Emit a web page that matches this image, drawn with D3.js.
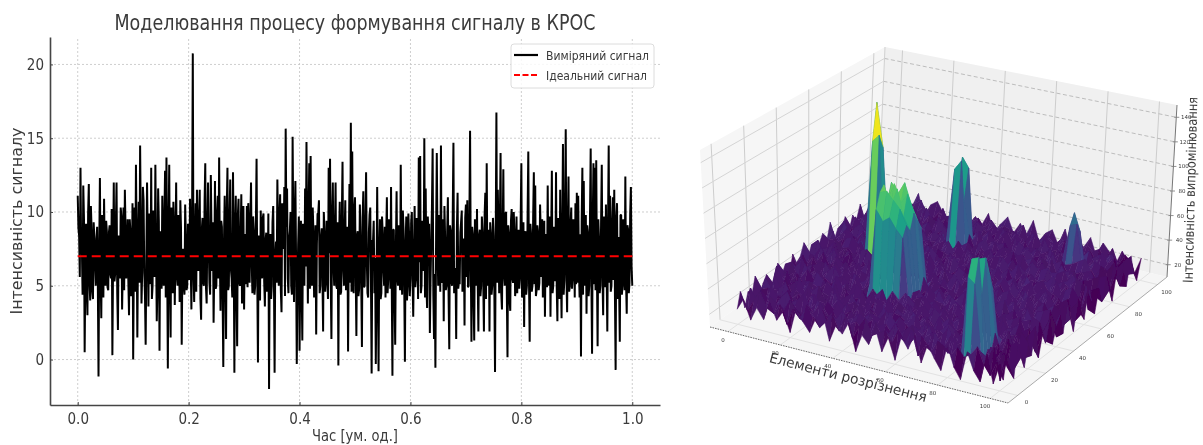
<!DOCTYPE html>
<html>
<head>
<meta charset="utf-8">
<script src="https://d3js.org/d3.v7.min.js"></script>
<style>
  html, body { margin: 0; padding: 0; background: #fff; overflow: hidden; }
  svg { display: block; }
  text { font-family: "DejaVu Sans Condensed", "DejaVu Sans", sans-serif; fill: #3a3a3a; }
</style>
</head>
<body>
<svg id="chart" width="1203" height="445"></svg>
<script>
// Left chart data
const signalTitle = "Моделювання процесу формування сигналу в КРОС";
const signalTicksX = [0, 0.2, 0.4, 0.6, 0.8, 1.0];
const signalTicksY = [0, 5, 10, 15, 20];
const idealLevel = 7;
const legendLabels = ["Виміряний сигнал", "Ідеальний сигнал"];

const measured = [
  11.1,8.4,13,7.6,11.8,.5,9.2,3,11.9,4,8.8,4.1,8.2,5,9,-1.15,12.3,2.8,8.6,10.9,
  5,8.7,4.7,9.1,5.5,.3,12,5.8,12,2,7.8,10.3,3.4,10.3,11.5,5.5,9.5,3,8.7,5,
  0,10.3,13.2,1.5,10.7,14.5,3.8,11.7,6,1,12,3.6,8.5,13,5,9,13.2,2.6,11.6,.6,
  6,11.1,5,12.8,13.7,-.6,13.2,1.5,8,10.7,3.7,12,5,8.5,10.8,1,7.5,4.4,8.3,5,
  7.5,10.9,3.4,20.75,3.9,10.6,11.5,6,11.5,2.7,9.6,5,13.3,3.8,12,5.2,12.5,6,2.5,12.1,
  5,11.1,13.7,3.3,9,-.5,11.1,1.4,13,5,12.2,5.5,12.7,-.9,11.1,.9,10.9,5,11.2,4.5,
  3.4,8.5,10.4,10.6,5.2,12,4.5,8.8,5,13.6,-.2,7.5,10.1,5.5,9.9,3.6,8.6,5,-2,8.5,
  5,10.4,-.9,8,12.2,5,11.2,3.2,8,11.7,15.65,11.6,4.5,8.7,5,15.1,3.9,12.1,-.3,7.8,
  .6,9.4,1.3,8.3,11.6,14.75,3.8,13.3,13.8,5,8.7,5.6,1.7,9.9,10.8,5,8.9,1.9,8.6,5.4,
  6,13,13.6,1.4,12,5,12,4.8,-.4,10.7,4.6,13.4,5,10.8,5.5,.55,11.9,16.05,14.1,4.5,
  11,1.6,8.7,4.8,8.4,.85,11.4,5,12.7,4.5,8.6,10.3,-.95,8,4.5,-.3,11.7,-.8,9.5,4.5,
  8.5,5,4.2,11,5.5,8.4,11.7,-1.1,8.8,1,11.4,5,8.6,13.2,4.4,8.9,-.15,9.7,5,8.5,
  5.5,10,2.9,10.4,5.5,8.6,13.7,13.8,5,8.8,15,11.6,3.5,8.4,1.8,8,14.3,1.4,-.55,14,
  5,9,14.5,5.2,2.6,8.3,5,11,.7,8.7,5,14.7,4.8,1.4,11.3,5.4,8.6,10.1,5,2.3,
  10.5,10.8,5,15.5,1.2,8.5,1.3,8.3,10.2,1.9,8.8,5,8.6,1.9,11.3,13.3,5,1.9,8.5,5,
  8.4,-.85,16.75,11.5,4.5,14,3.4,12.9,5,10,.15,8.6,3.3,10.2,5.2,8.7,5,4.5,8.8,5.5,
  13.3,5,2.2,8.7,5,14.1,1.2,8.5,5,12.7,11.8,4.7,8.6,5.2,8.4,9.5,5.5,2.9,8.5,11.8,
  5,2.9,12.8,5,8.4,12.7,2.6,8,11.5,2.8,14.6,5.4,15.6,3.2,12.4,5,10.3,5.5,8.7,10.6,
  11.3,11.1,4.2,.2,13,12.1,5,3.1,8.6,5,14.3,.4,13.3,13,13.5,.9,8.2,5,13.2,3,
  8.4,10.5,1.9,14.5,11.1,5,11,11.5,-.7,10.6,8.3,1.2,9.8,5,8.7,12.4,3.1,8.8,5.2,11.7,5
];

// samples in between, the dark band around the ideal level
const measuredBetween = [
  8.9,5.6,7.2,4.4,9.6,6.1,4.8,9.9,5.2,10.4,4.6,9.3,6.4,8.2,5.1,7.4,5.7,9.8,4.2,7.1,
  9.4,4.9,8.6,5.8,10.2,6.6,5.3,9.1,4.5,8.4,5.5,9.7,6.2,4.7,8.8,7.3,5.4,9.5,4.3,10.6,
  6.7,4.6,8.1,7.5,5.2,9.2,5.9,10.8,4.4,6.9,8.3,9.9,5.1,4.1,10.1,5.6,7.8,4.9,9.4,8.7,
  4.8,7.6,9.5,4.2,6.8,8.5,5.3,10.3,4.5,9.1,7.2,5.7,9.8,3.9,8.9,6.3,5,10.5,4.7,9.2,
  5.4,6.5,9.7,5.8,8.2,4.6,7.4,9.6,4.1,8.8,5.2,10.7,4.9,9,7.7,4.4,8.6,9.3,6.2,4.8,
  9.9,5.5,7.1,9.4,4.3,8,5.9,10.1,4.7,9.5,6.1,4.2,7.6,8.9,4.5,9.8,5.2,8.3,3.8,10.4,
  7.9,5.1,4.9,8.7,9.2,6.6,9.7,4.4,9.1,5.6,8.4,4,7.3,9.6,5.3,8.1,4.6,9.9,7.2,4.1,
  9.3,5.8,6.9,5.2,8.8,9.5,4.7,10.6,7.5,4.3,9,5.5,8.2,10,4.4,8.6,9.4,6.7,5.1,9.7,
  5.4,4.9,9.2,5,6.3,8.9,9.6,4.8,5.6,10.3,4.2,9.1,7.8,9.9,4.5,8.3,5.7,10,4.6,9.4,
  4.1,7.2,5.3,9.8,6.5,8.7,5,9.3,8,4.4,9.5,6.2,8.5,4.7,9,7.4,5.2,4.6,6.4,10.2,
  5.9,8.4,4.3,10.5,5.1,9.6,4.9,9.2,6.8,4.2,9.8,5.4,8.1,9.4,6.9,4.6,5.7,7.2,4.1,9.7,
  6.1,9,8.3,4.5,9.5,4.8,5.3,8.8,4.4,7.7,5.6,9.1,4.7,6.4,10.1,5.2,7.9,4,9.9,4.3,
  9.3,5.5,7,4.9,9.6,4.1,6.6,4.5,9.4,6,4.2,5.1,9.7,9.2,5.4,10.3,4.4,5.8,8.5,8,
  9.8,4.6,5.7,9.5,10.4,4.7,8.6,4.3,9.1,5.3,9.9,4.5,6.2,8.9,4.8,5.1,9.3,4.6,8.2,9.6,
  5.6,4.9,9.4,6.7,9,4.2,9.5,5,5.4,8.4,4.3,9.7,5.2,9.8,4.1,5.9,8.8,9.3,4.4,9.6,
  4.7,8.1,5.2,8.7,9.2,4.5,8.3,5.7,9.9,4.6,9.1,4,9.4,5.5,10,4.3,9.7,6.4,4.8,9.5,
  4.2,9.3,8.1,4.4,9.8,5.4,9.2,4.6,9.6,5.1,4.3,9.1,4.7,10.5,5.6,4.2,9.4,7.4,4.9,5.8,
  9.7,8.2,4.5,9,5.3,4.9,9.6,4.1,6.2,8.6,4.4,9.9,5.7,8.8,4.6,9.2,4.8,9.5,4.2,5.1,
  5.2,6.4,8.5,9.3,4.4,5.8,9.8,9.1,4.3,9.6,5.5,9.4,5.1,4.7,6.1,9.5,4.5,9.2,5.6,9.7,
  4.9,5.9,9,5.2,4.6,9.3,5.4,4.3,9.6,4.1,5,9.8,4.4,9.5,4.7,5.3,9.1,4.5,9.9,6.3
];

// Right chart data
const surfaceTicksXY = [0, 20, 40, 60, 80, 100];
const surfaceTicksZ = [20, 40, 60, 80, 100, 120, 140];
const surfaceLabelX = "Елементи розрізнення";
const surfaceLabelZ = "Інтенсивність випромінювання";

// background heights, one row per step of 2.5 along the x axis
const surfaceRows = [
  [22,34,19,30,25,38,21,28,33,18, 27,36,24,31,20,35,26,29,38,23, 32,19,28,35,25,40,22,30,27,36, 21,33,26,38,24,29,35,20,31,27,24],
  [31,20,36,26,18,29,35,23,27,39, 22,30,25,34,28,19,33,24,30,26, 37,28,21,31,36,24,29,38,23,28, 35,26,30,22,33,27,21,36,25,30,37],
  [16,29,25,33,22,31,27,36,20,28, 34,24,29,21,36,27,23,31,25,35, 22,30,26,33,20,29,35,25,31,22, 28,37,24,30,26,34,28,23,29,33,21],
  [27,38,21,28,35,24,30,22,33,26, 19,31,27,35,24,30,28,21,34,26, 29,36,23,27,32,22,30,26,36,29, 24,31,27,21,35,25,33,30,26,22,34],
  [19,26,33,23,29,27,36,25,21,31, 28,24,34,26,29,22,32,27,24,37, 25,21,30,28,35,26,23,33,27,24, 30,22,36,28,25,31,23,27,35,29,25],
  [34,23,28,31,20,33,24,29,37,26, 30,22,27,32,25,35,21,29,33,24, 28,31,26,22,30,37,28,25,21,34, 27,29,24,32,30,23,36,26,22,31,38],
  [21,31,25,37,27,22,30,26,24,33, 29,36,23,28,31,26,34,24,28,22, 33,25,29,36,23,27,31,34,28,25, 22,35,30,26,23,29,27,33,28,36,20],
  [29,17,34,24,30,28,23,35,29,22, 26,31,28,24,36,23,27,33,26,30, 21,34,27,24,31,25,22,29,36,27, 33,24,28,31,37,26,30,22,34,25,31],
  [14,30,27,22,36,25,31,21,34,27, 33,25,22,30,27,34,29,22,31,25, 28,36,30,26,33,22,28,35,24,30, 26,29,34,23,27,31,25,36,28,23,35],
  [33,24,20,31,26,35,28,30,23,25, 29,37,26,33,21,28,24,35,27,29, 23,31,25,34,27,29,36,23,30,26, 31,22,27,35,29,24,33,28,21,30,26],
  [25,36,29,26,33,22,27,24,31,36, 22,28,30,24,34,26,31,23,36,28, 25,33,29,22,30,26,24,32,27,35, 23,30,26,28,33,22,29,25,36,27,19],
  [18,28,23,35,29,31,25,37,26,21, 31,27,23,36,28,25,30,33,22,27, 34,24,28,31,25,36,29,26,21,31, 28,34,25,30,24,36,27,31,23,29,32],
  [30,21,32,25,20,27,33,22,30,29, 24,34,28,26,31,36,23,28,29,25, 31,22,35,27,33,24,30,27,35,24, 29,26,33,21,28,30,25,22,34,26,37],
  [37,27,24,30,36,26,29,28,34,23, 27,30,22,33,25,27,35,24,31,36, 26,29,23,30,28,35,22,31,26,33, 25,28,30,36,27,24,32,29,26,31,22],
  [15,33,28,21,27,34,22,31,25,36, 26,23,31,29,35,22,28,33,25,30, 24,36,28,26,31,23,29,34,27,22, 30,35,24,29,26,33,27,23,36,28,30],
  [28,22,36,27,31,23,30,26,28,21, 33,29,25,34,24,31,27,22,36,26, 30,23,33,29,25,28,36,24,30,27, 33,22,28,31,25,29,34,26,21,32,24],
  [23,35,26,29,24,37,25,33,22,30, 27,35,24,28,30,26,33,29,24,31, 27,34,22,28,35,26,31,23,29,36, 24,27,33,26,30,23,28,35,29,25,35],
  [33,19,30,34,28,22,31,27,36,25, 29,22,33,26,23,35,21,30,28,34, 25,29,36,24,27,32,23,30,26,28, 35,29,22,34,27,31,24,30,26,33,20],
  [12,29,24,27,33,30,26,21,29,34, 24,31,27,36,28,25,31,26,35,23, 30,27,24,33,29,22,35,28,31,24, 27,33,26,23,36,28,30,25,32,27,29],
  [26,37,21,32,25,28,35,29,24,27, 31,26,34,22,30,27,24,36,22,29, 33,25,31,28,23,36,26,30,24,34, 29,22,31,28,25,35,23,29,27,31,36],
  [20,25,33,28,22,36,24,30,31,23, 28,35,25,29,33,23,29,26,31,27, 24,35,30,22,27,31,29,25,33,26, 23,31,36,27,30,24,28,34,22,29,24],
  [35,28,23,31,37,26,22,29,27,34, 25,30,23,31,26,36,28,24,30,33, 27,22,29,34,26,30,24,36,28,23, 31,27,25,33,29,26,35,24,31,26,33],
  [17,31,27,24,30,33,28,25,36,22, 30,26,35,27,22,29,33,25,28,24, 36,30,25,31,23,28,34,22,30,27, 35,26,29,24,31,22,27,33,28,35,25],
  [29,23,36,26,21,29,31,34,23,28, 33,24,28,31,36,25,27,31,23,35, 26,29,33,24,30,27,23,35,26,31, 24,28,33,30,22,36,26,29,25,23,38],
  [13,34,25,30,28,24,36,26,30,25, 27,36,22,30,26,33,24,29,35,28, 23,31,27,36,25,29,32,26,24,33, 28,30,22,27,35,24,31,26,33,29,22],
  [32,26,22,35,31,27,23,33,28,36, 24,29,31,25,34,28,30,22,26,33, 29,24,35,28,22,31,26,30,36,27, 23,34,29,25,31,28,22,36,27,24,30],
  [24,37,29,23,26,34,30,25,22,31, 35,27,23,33,29,24,36,31,27,22, 30,34,26,23,31,36,28,24,29,33, 26,22,31,35,27,30,25,28,34,30,34],
  [36,18,31,28,35,22,27,36,29,26, 22,30,34,27,24,31,22,28,33,29, 25,36,27,30,26,23,33,29,27,22, 35,30,24,28,33,26,36,23,29,25,23],
  [16,27,25,33,24,31,29,23,34,28, 31,25,27,36,30,22,35,26,24,31, 28,23,31,34,29,27,24,36,31,26, 28,33,25,30,22,29,27,34,26,31,37],
  [31,24,36,22,30,27,35,28,25,33, 23,36,29,24,28,33,27,30,36,25, 34,27,22,29,33,25,30,22,28,35, 24,27,31,26,36,23,30,25,33,28,20],
  [22,33,28,26,37,24,31,22,29,27, 34,26,22,31,35,25,29,24,28,33, 22,30,36,26,24,35,27,31,25,30, 33,22,29,36,24,31,28,26,23,30,31],
  [14,30,23,35,25,29,26,34,31,24, 28,31,35,23,27,30,33,26,22,36, 29,25,28,31,36,22,30,26,33,24, 27,35,30,23,28,26,33,29,36,25,26],
  [34,25,37,21,28,33,24,30,26,36, 23,27,30,34,25,22,36,29,31,24, 27,33,22,35,28,31,24,29,36,30, 25,22,33,28,31,27,24,35,22,31,35],
  [19,32,22,29,36,26,31,23,35,27, 29,33,24,26,31,28,23,34,25,30, 36,23,29,27,22,33,30,25,27,31, 35,28,24,30,26,33,29,22,31,27,21],
  [11,26,35,24,27,30,22,36,28,25, 31,22,36,29,23,33,30,26,28,35, 24,31,26,33,30,25,36,28,22,34, 27,30,25,33,29,23,35,27,24,30,33],
  [33,29,18,37,23,34,28,25,31,22, 35,28,25,31,27,24,29,33,22,27, 31,26,35,22,28,36,24,31,29,25, 33,23,28,36,27,30,25,31,26,22,27],
  [20,36,30,22,28,25,36,24,27,33, 26,30,23,34,29,36,22,27,31,25, 29,34,24,30,26,23,31,27,35,28, 22,31,26,29,33,24,36,28,30,33,18],
  [13,24,27,33,19,31,22,29,35,21, 28,34,26,22,31,26,33,24,36,29, 23,27,31,25,33,29,22,36,24,30, 28,33,25,22,31,27,29,34,25,21,30],
  [35,17,36,22,29,14,34,25,19,32, 24,16,30,36,20,28,35,17,27,33, 20,31,15,29,36,22,18,33,26,14, 31,23,35,17,28,20,34,24,15,30,23],
  [14,28,12,31,18,33,13,27,36,15, 30,21,13,34,24,15,37,22,12,30, 17,35,25,13,29,19,36,14,27,20, 33,12,29,16,36,21,13,31,18,26,14],
  [30,16,34,20,11,36,23,13,29,18, 38,12,27,19,35,14,26,33,16,38, 23,11,32,20,14,37,24,12,30,17, 35,22,11,33,19,28,14,36,20,12,28]
];

// peaks laid over the background, heights typed cell by cell
const peakTall = [[118, 148], [124, 112]];
const peakTallAt = [7, 24];
const peakWide = [
  [92, 104, 108, 94, 106, 86],
  [84, 106, 92, 108, 98, 82],
  [88, 100, 107, 94, 108, 84],
  [80, 94, 86, 102, 92, 78],
  [74, 82, 76, 88, 80, 72]
];
const peakWideAt = [14, 13];
const peakBack = [[88, 58, 94], [96, 60, 86]];
const peakBackAt = [15, 32];
const peakFront = [
  [84, 96, 70, 92, 84, 68],
  [80, 98, 68, 94, 80, 66]
];
const peakFrontAt = [34, 2];
const peakSmall = [[58, 66], [60, 52]];
const peakSmallAt = [32, 34];

const svg = d3.select("#chart");

////////// Left chart //////////

const x = d3.scaleLinear().domain([-0.05, 1.05]).range([50, 660]);
const y = d3.scaleLinear().domain([-3.08, 21.86]).range([405, 37]);

const left = svg.append("g").attr("filter", "url(#soft)");
const defs = svg.append("defs");
defs.append("filter").attr("id", "soft")
    .append("feGaussianBlur").attr("stdDeviation", 0.35);
defs.append("filter").attr("id", "softer")
    .append("feGaussianBlur").attr("stdDeviation", 0.5);

// grid
left.selectAll(".gridX").data(signalTicksX).enter().append("line")
    .attr("x1", d => x(d)).attr("x2", d => x(d))
    .attr("y1", y.range()[0]).attr("y2", y.range()[1])
    .attr("stroke", "#c8c8c8").attr("stroke-width", 0.9).attr("stroke-dasharray", "2,2");
left.selectAll(".gridY").data(signalTicksY).enter().append("line")
    .attr("x1", x.range()[0]).attr("x2", x.range()[1])
    .attr("y1", d => y(d)).attr("y2", d => y(d))
    .attr("stroke", "#c8c8c8").attr("stroke-width", 0.9).attr("stroke-dasharray", "2,2");

// measured and ideal lines
const samples = d3.merge(measuredBetween.map((v, i) => [measured[i], v]))
    .concat(measured[measuredBetween.length]);
const line = d3.line().x((d, i) => x(i / (samples.length - 1))).y(d => y(d));
left.append("path").datum(samples)
    .attr("d", line).attr("fill", "none")
    .attr("stroke", "#000").attr("stroke-width", 2).attr("stroke-linejoin", "bevel");
left.append("line")
    .attr("x1", x(0)).attr("x2", x(1)).attr("y1", y(idealLevel)).attr("y2", y(idealLevel))
    .attr("stroke", "#f00").attr("stroke-width", 2).attr("stroke-dasharray", "9,5");

// axes
const axisX = left.append("g").attr("transform", `translate(0,${y.range()[0]})`)
    .call(d3.axisBottom(x).tickValues(signalTicksX).tickFormat(d3.format(".1f"))
        .tickSizeInner(-3).tickSizeOuter(0).tickPadding(8));
const axisY = left.append("g").attr("transform", `translate(${x.range()[0]},0)`)
    .call(d3.axisLeft(y).tickValues(signalTicksY)
        .tickSizeInner(-3).tickSizeOuter(0).tickPadding(6));
[axisX, axisY].forEach(a => {
    a.select(".domain").attr("stroke", "#444").attr("stroke-width", 1.6);
    a.selectAll(".tick line").attr("stroke", "#444");
    a.selectAll("text").style("font-size", "15px")
        .style("font-family", '"DejaVu Sans Condensed", "DejaVu Sans"').attr("fill", "#3a3a3a");
});

// titles
left.append("text").attr("x", 355).attr("y", 30).attr("text-anchor", "middle")
    .attr("textLength", 481).attr("lengthAdjust", "spacingAndGlyphs")
    .style("font-size", "20.5px").text(signalTitle);
left.append("text").attr("x", 355).attr("y", 441).attr("text-anchor", "middle")
    .attr("textLength", 86).attr("lengthAdjust", "spacingAndGlyphs")
    .style("font-size", "15px").text("Час [ум. од.]");
left.append("text").attr("transform", "translate(22,221) rotate(-90)").attr("text-anchor", "middle")
    .attr("textLength", 187).attr("lengthAdjust", "spacingAndGlyphs")
    .style("font-size", "15px").text("Інтенсивність сигналу");

// legend
const legend = left.append("g");
legend.append("rect").attr("x", 511).attr("y", 44).attr("width", 143).attr("height", 44).attr("rx", 3)
    .attr("fill", "#fff").attr("fill-opacity", 0.85).attr("stroke", "#dcdcdc");
legend.append("line").attr("x1", 514).attr("x2", 538).attr("y1", 55).attr("y2", 55)
    .attr("stroke", "#000").attr("stroke-width", 2.2);
legend.append("line").attr("x1", 514).attr("x2", 538).attr("y1", 75).attr("y2", 75)
    .attr("stroke", "#f00").attr("stroke-width", 2.2).attr("stroke-dasharray", "6,2.5");
legend.selectAll(".label").data(legendLabels).enter().append("text")
    .attr("x", 546).attr("y", (d, i) => 60 + i * 20)
    .attr("textLength", (d, i) => i == 0 ? 103 : 101).attr("lengthAdjust", "spacingAndGlyphs")
    .style("font-size", "13px").text(d => d);

////////// Right chart //////////

// corners of the plot box in the picture: left, front, right, back
const boxFloor = [[710, 327], [1008, 403], [1167, 277], [878, 207]];
const boxTop = [[700, 150], [1011, 213], [1177, 105], [885, 47]];

const xData = d3.scaleLinear().domain([0, 100]).range([0.06, 0.94]);
const yData = d3.scaleLinear().domain([0, 100]).range([0.06, 0.94]);
const zData = d3.scaleLinear().domain([10, 150]).range([0, 1]);
const colour = d3.scaleSequential(d3.interpolateViridis).domain([22, 128]).clamp(true);

// s runs left->front, t runs front->right, h runs floor->top
function project(s, t, h) {
    const w = [(1 - s) * (1 - t), s * (1 - t), s * t, (1 - s) * t];
    const at = (corners, k) => d3.sum(corners, (c, n) => c[k] * w[n]);
    return [0, 1].map(k => at(boxFloor, k) + h * (at(boxTop, k) - at(boxFloor, k)));
}
const toPoints = pts => pts.map(p => p.map(v => v.toFixed(1)).join(",")).join(" ");

const right = svg.append("g").attr("filter", "url(#softer)");

// panes
right.append("polygon").attr("fill", "#f6f6f6")
    .attr("points", toPoints([project(0, 0, 0), project(0, 0, 1), project(0, 1, 1), project(0, 1, 0)]));
right.append("polygon").attr("fill", "#f0f0f0")
    .attr("points", toPoints([project(0, 1, 0), project(0, 1, 1), project(1, 1, 1), project(1, 1, 0)]));
right.append("polygon").attr("fill", "#f5f5f5")
    .attr("points", toPoints([project(0, 0, 0), project(1, 0, 0), project(1, 1, 0), project(0, 1, 0)]));

function paneLine(a, b, colourName, width, dash) {
    const p = project(a[0], a[1], a[2]), q = project(b[0], b[1], b[2]);
    right.append("line").attr("x1", p[0]).attr("y1", p[1]).attr("x2", q[0]).attr("y2", q[1])
        .attr("stroke", colourName).attr("stroke-width", width)
        .attr("stroke-dasharray", dash || null);
}

surfaceTicksXY.forEach(d => {
    // walls
    paneLine([0, yData(d), 0], [0, yData(d), 1], "#cdcdcd", 1);
    paneLine([xData(d), 1, 0], [xData(d), 1, 1], "#cdcdcd", 1);
    // floor
    paneLine([xData(d), 0, 0], [xData(d), 1, 0], "#e2e2e2", 1);
    paneLine([0, yData(d), 0], [1, yData(d), 0], "#e2e2e2", 1);
});
surfaceTicksZ.forEach(d => {
    paneLine([0, 0, zData(d)], [0, 1, zData(d)], "#d4d4d4", 1);
    paneLine([0, 1, zData(d)], [1, 1, zData(d)], "#bdbdbd", 1, "4,2.5");
});

// box edges with the axes
paneLine([0, 0, 0], [1, 0, 0], "#666", 1, "1.6,1");
paneLine([1, 0, 0], [1, 1, 0], "#aaa", 1);
paneLine([1, 1, 0], [1, 1, 1], "#777", 1);
paneLine([0, 1, 0], [0, 1, 1], "#d0d0d0", 1);

// heights with peaks laid in
const heights = surfaceRows.map(r => r.slice());
[[peakTall, peakTallAt], [peakWide, peakWideAt], [peakBack, peakBackAt],
 [peakFront, peakFrontAt], [peakSmall, peakSmallAt]].forEach(([peak, at]) => {
    peak.forEach((row, i) => row.forEach((v, j) => { heights[at[0] + i][at[1] + j] = v; }));
});

const nRows = heights.length;
const nCols = d3.min(heights, r => r.length);
const stepX = 100 / (nRows - 1);
const stepY = 100 / (nCols - 1);
const corner = (i, j) => project(xData(i * stepX), yData(j * stepY), zData(heights[i][j]));

// back to front: far rows first, far columns first inside a row
const surface = right.append("g");
for (let i = 0; i < nRows - 1; i++) {
    for (let j = nCols - 2; j >= 0; j--) {
        const a = heights[i][j], b = heights[i + 1][j], c = heights[i + 1][j + 1], e = heights[i][j + 1];
        // faces turned to the left come out lighter, the small ripple stays flat
        const rise = Math.max(0, (c + e - a - b) / 2 - 15);
        const fill = colour((a + b + c + e) / 4 + rise * 0.38);
        surface.append("polygon")
            .attr("points", toPoints([corner(i, j), corner(i + 1, j), corner(i + 1, j + 1), corner(i, j + 1)]))
            .attr("fill", fill).attr("stroke", fill).attr("stroke-width", 0.5);
    }
}

// tick labels
const tiny = (sel) => sel.style("font-size", "5.5px").style("font-family", '"DejaVu Sans"')
    .attr("text-anchor", "middle").attr("fill", "#555");
surfaceTicksXY.forEach(d => {
    const px = project(xData(d), 0, 0);
    right.append("text").attr("x", px[0] - 5).attr("y", px[1] + 10).text(d).call(tiny);
    const py = project(1, yData(d), 0);
    right.append("text").attr("x", py[0] + 9).attr("y", py[1] + 9).text(d).call(tiny);
});
surfaceTicksZ.forEach(d => {
    const p = project(1, 1, zData(d));
    right.append("line").attr("x1", p[0] - 2).attr("x2", p[0] + 3).attr("y1", p[1]).attr("y2", p[1])
        .attr("stroke", "#777").attr("stroke-width", 0.8);
    right.append("text").attr("x", p[0] + 10).attr("y", p[1] + 2).text(d).call(tiny);
});

// axis labels
right.append("text").attr("transform", "translate(847,382) rotate(14.3)").attr("text-anchor", "middle")
    .attr("textLength", 162).attr("lengthAdjust", "spacingAndGlyphs")
    .style("font-size", "14px").style("font-family", '"DejaVu Sans"').text(surfaceLabelX);
right.append("text").attr("transform", "translate(1195,190) rotate(-88.5)").attr("text-anchor", "middle")
    .attr("textLength", 186).attr("lengthAdjust", "spacingAndGlyphs")
    .style("font-size", "13.5px").style("font-family", '"DejaVu Sans"').text(surfaceLabelZ);
</script>
</body>
</html>
